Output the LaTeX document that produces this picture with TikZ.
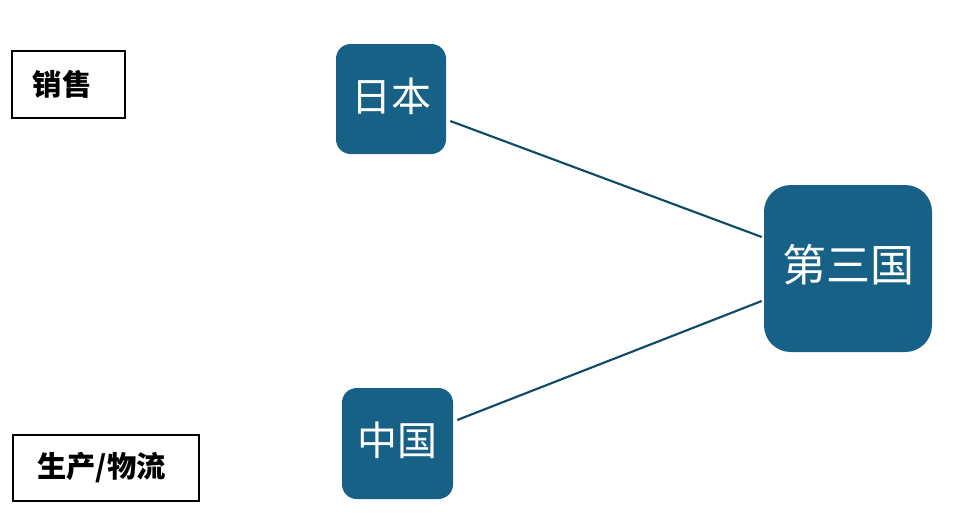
\documentclass[tikz,border=0pt]{standalone}
\usepackage{fontspec}
\usepackage{xcolor}
\usepackage{tikz}
\usetikzlibrary{calc,positioning}
\newfontfamily\cjk{Noto Sans CJK SC}
\definecolor{mainc}{HTML}{176187}
\definecolor{deepc}{HTML}{0F4B69}
\tikzset{
  lbl/.style={draw=black,line width=1.5pt,minimum height=50pt,font=\cjk\bfseries\fontsize{22}{24}\selectfont,inner sep=0pt},
  cty/.style={fill=mainc,text=white,rounded corners=11pt,font=\cjk\fontsize{30}{32}\selectfont,inner sep=0pt},
  ln/.style={deepc,line width=1.6pt}
}
\begin{document}
\begin{tikzpicture}[x=0.75pt,y=-0.75pt]
\useasboundingbox (0,0) rectangle (958,515);
% left labels
\node[lbl,minimum width=84.75pt] (sales) at (68.5,84.5) {销售\hspace*{9.75pt}};
\node[lbl,minimum width=139.5pt] (prod) at (106,468) {生产/物流\hspace*{6.75pt}};
% countries
\node[cty,minimum width=82.5pt,minimum height=82.5pt] (japan) at (391,99) {\raisebox{2.25pt}[\height][\depth]{日本}};
\node[cty,minimum width=83.25pt,minimum height=83.25pt] (china) at (397.5,443.5) {\raisebox{2.25pt}[\height][\depth]{中国}};
\node[cty,minimum width=126pt,minimum height=125.25pt,rounded corners=20pt,font=\cjk\fontsize{33}{36}\selectfont] (third) at (848,268.5) {\raisebox{3.2pt}[\height][\depth]{第三国}};
% links
\draw[ln] ([shift={(4,22)}]japan.east) -- ([shift={(-2,-31.5)}]third.west);
\draw[ln] ([shift={(4,-23.5)}]china.east) -- ([shift={(-2,32.5)}]third.west);
\end{tikzpicture}
\end{document}
